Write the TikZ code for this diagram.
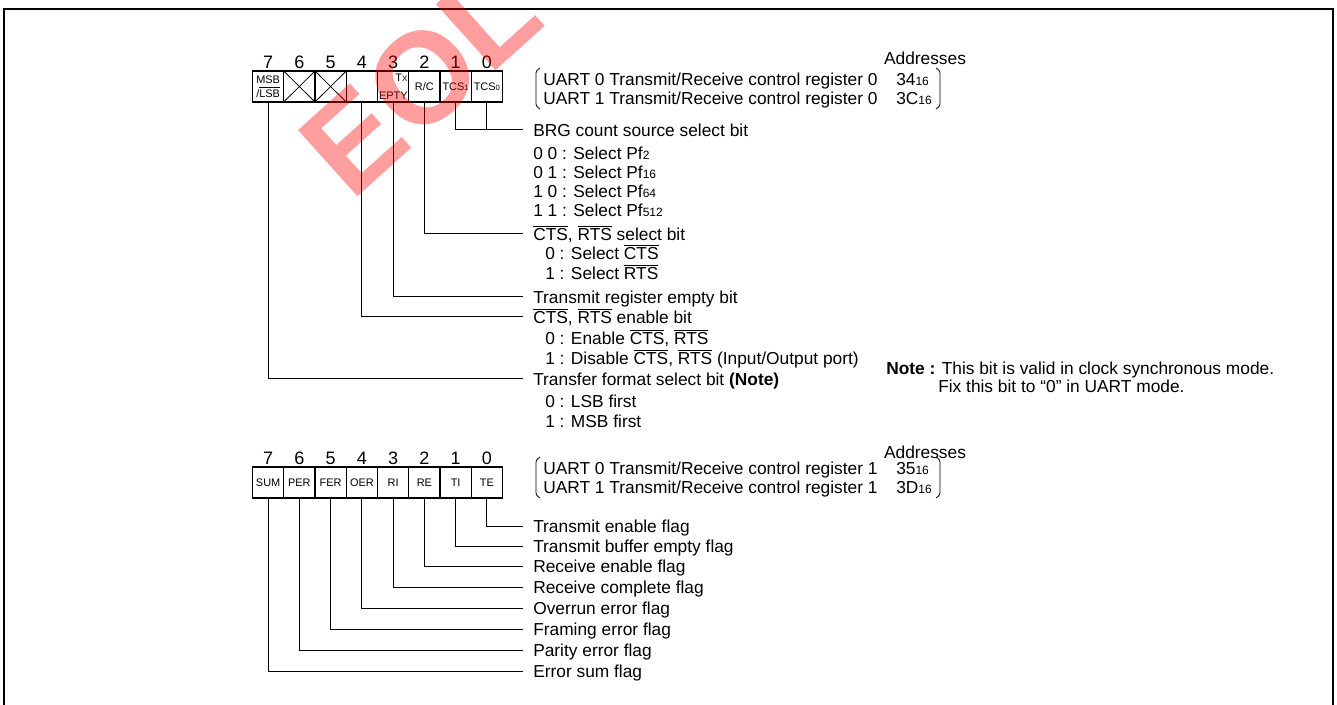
\documentclass[tikz,border=0pt]{standalone}
\usepackage{fontspec}
\setmainfont{Liberation Sans}
\usetikzlibrary{calc}
\newcommand{\ovl}[1]{$\overline{\mbox{#1}}$}
\newcommand{\sbs}[1]{{\fontsize{9}{9}\selectfont #1}}
\newcommand{\csub}[1]{{\fontsize{5.8}{6}\selectfont #1}}
\begin{document}
\begin{tikzpicture}[x=0.75pt,y=-0.75pt,
  font=\fontsize{13}{15}\selectfont,
  cell/.style={draw, line width=0.8pt, minimum width=23.44pt, minimum height=23.25pt, inner sep=0pt, font=\fontsize{8.2}{9}\selectfont},
  bitno/.style={inner sep=0pt, font=\fontsize{13.5}{14}\selectfont},
  lab/.style={anchor=west, inner xsep=7.5pt, inner ysep=0pt, text height=9.3pt, text depth=0pt},
  sub/.style={anchor=west, inner xsep=0pt, inner ysep=0pt, text height=9.3pt, text depth=0pt},
  lead/.style={line width=0.75pt},
  brk/.style={line width=0.6pt},
]
\useasboundingbox (0,0) rectangle (1337,705);
% frame
\draw[line width=2pt] (4,710) -- (4,9) -- (1333,9) -- (1333,710);

% ---------- top register ----------
\foreach \n [count=\k from 0] in {7,6,5,4,3,2,1,0}
  \node[bitno] (tn\n) at ({268.125+31.25*\k},62) {\n};
\node[cell, align=center] (t7) at (268.125,86.5) {MSB\\[1.5pt]/\ovl{LSB}};
\node[cell] (t6) at (299.375,86.5) {};
\node[cell] (t5) at (330.625,86.5) {};
\node[cell] (t4) at (361.875,86.5) {};
\node[cell] (t3) at (393.125,86.5) {};
\node[cell] (t2) at (424.375,86.5) {R/C};
\node[cell] (t1) at (455.625,86.5) {TCS\csub{1}};
\node[cell] (t0) at (486.875,86.5) {TCS\csub{0}};
\draw[line width=0.6pt] (t6.north west) -- (t6.south east) (t6.north east) -- (t6.south west);
\draw[line width=0.6pt] (t5.north west) -- (t5.south east) (t5.north east) -- (t5.south west);
\node[anchor=north east, inner xsep=1.2pt, inner ysep=2.5pt, font=\fontsize{8.2}{8}\selectfont] (t3a) at (t3.north east) {T{\fontsize{6}{6}\selectfont X}};
\node[anchor=south east, inner xsep=1pt, inner ysep=2.2pt, font=\fontsize{8.2}{8}\selectfont] (t3b) at (t3.south east) {EPTY};

% addresses (top)
\node[inner sep=0pt] (addr1) at (925,58) {Addresses};
\node[sub] (ua0) at (543,79) {UART 0 Transmit/Receive control register 0};
\node[sub] (ua1) at (543,98) {UART 1 Transmit/Receive control register 0};
\node[sub] (aa0) at (896,79) {34\sbs{16}};
\node[sub] (aa1) at (896,98) {3C\sbs{16}};
\draw[brk] (540,68) .. controls (536,71) .. (536,76) -- (536,101) .. controls (536,106) .. (540,109);
\draw[brk] (936,68) .. controls (940,71) .. (940,76) -- (940,101) .. controls (940,106) .. (936,109);

% labels (top)
\node[lab] (lbrg) at (523,130) {BRG count source select bit};
\node[sub] (l00) at (533,153) {0 0 : Select Pf\sbs{2}};
\node[sub] (l01) at (533,172) {0 1 : Select Pf\sbs{16}};
\node[sub] (l10) at (533,191) {1 0 : Select Pf\sbs{64}};
\node[sub] (l11) at (533,210) {1 1 : Select Pf\sbs{512}};
\node[lab] (lcts) at (523,234) {\ovl{CTS}, \ovl{RTS} select bit};
\node[sub] (lc0) at (545,253) {0 : Select \ovl{CTS}};
\node[sub] (lc1) at (545,273) {1 : Select \ovl{RTS}};
\node[lab] (ltx) at (523,297) {Transmit register empty bit};
\node[lab] (len) at (523,317) {\ovl{CTS}, \ovl{RTS} enable bit};
\node[sub] (le0) at (545,338) {0 : Enable \ovl{CTS}, \ovl{RTS}};
\node[sub] (le1) at (545,358) {1 : Disable \ovl{CTS}, \ovl{RTS} (Input/Output port)};
\node[lab] (ltf) at (523,379) {Transfer format select bit \textbf{(Note)}};
\node[sub] (lf0) at (545,401) {0 : LSB first};
\node[sub] (lf1) at (545,421) {1 : MSB first};

\draw[lead] (t1.south) |- (lbrg.west);
\draw[lead] (t0.south) -- (t0.south |- lbrg.west);
\draw[lead] (t2.south) |- (lcts.west);
\draw[lead] (t3.south) |- (ltx.west);
\draw[lead] (t4.south) |- (len.west);
\draw[lead] (t7.south) |- (ltf.west);

% note
\node[sub] (note1) at (886,368) {\textbf{Note :} This bit is valid in clock synchronous mode.};
\node[sub] (note2) at (938,386) {Fix this bit to “0” in UART mode.};

% ---------- bottom register ----------
\foreach \n [count=\k from 0] in {7,6,5,4,3,2,1,0}
  \node[bitno] (bn\n) at ({268.125+31.25*\k},458) {\n};
\foreach \n/\t [count=\k from 0] in {7/SUM,6/PER,5/FER,4/OER,3/RI,2/RE,1/TI,0/TE}
  \node[cell] (b\n) at ({268.125+31.25*\k},482.5) {\t};

\node[inner sep=0pt] (addr2) at (925,452) {Addresses};
\node[sub] (ub0) at (543,468) {UART 0 Transmit/Receive control register 1};
\node[sub] (ub1) at (543,487) {UART 1 Transmit/Receive control register 1};
\node[sub] (ab0) at (896,468) {35\sbs{16}};
\node[sub] (ab1) at (896,487) {3D\sbs{16}};
\draw[brk] (540,457) .. controls (536,460) .. (536,465) -- (536,490) .. controls (536,495) .. (540,498);
\draw[brk] (936,457) .. controls (940,460) .. (940,465) -- (940,490) .. controls (940,495) .. (936,498);

\node[lab] (lte) at (523,526) {Transmit enable flag};
\node[lab] (lti) at (523,546) {Transmit buffer empty flag};
\node[lab] (lre) at (523,566) {Receive enable flag};
\node[lab] (lri) at (523,587) {Receive complete flag};
\node[lab] (loe) at (523,608) {Overrun error flag};
\node[lab] (lfe) at (523,629) {Framing error flag};
\node[lab] (lpe) at (523,650) {Parity error flag};
\node[lab] (lsum) at (523,671) {Error sum flag};

\draw[lead] (b0.south) |- (lte.west);
\draw[lead] (b1.south) |- (lti.west);
\draw[lead] (b2.south) |- (lre.west);
\draw[lead] (b3.south) |- (lri.west);
\draw[lead] (b4.south) |- (loe.west);
\draw[lead] (b5.south) |- (lfe.west);
\draw[lead] (b6.south) |- (lpe.west);
\draw[lead] (b7.south) |- (lsum.west);

% watermark
\node[rotate=42, text=red, text opacity=0.38, inner sep=0pt,
  font=\bfseries\fontsize{97}{97}\selectfont] (wm) at (420,80) {EOL};
\end{tikzpicture}
\end{document}
